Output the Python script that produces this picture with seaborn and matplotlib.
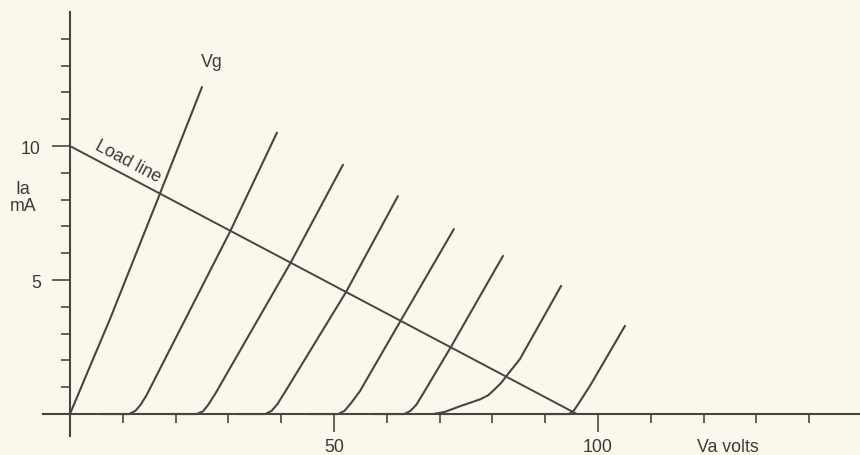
import numpy as np
import pandas as pd
import matplotlib
matplotlib.use("Agg")
import matplotlib.pyplot as plt
import seaborn as sns

# curvas de anodo (Va em volts, Ia em mA)
curve1_va = [0, 1.5, 3.2, 7.6, 17.0, 25.0]
curve1_ia = [0, 0.7, 1.5, 3.55, 8.2, 12.2]
curve2_va = [6.0, 11.2, 12.4, 13.4, 14.5, 30.3, 39.2]
curve2_ia = [0, 0, 0.12, 0.35, 0.7, 6.8, 10.5]
curve3_va = [19.0, 24.0, 25.2, 26.2, 27.5, 41.8, 51.7]
curve3_ia = [0, 0, 0.1, 0.35, 0.75, 5.65, 9.3]
curve4_va = [31.6, 37.0, 38.2, 39.2, 40.5, 52.3, 62.1]
curve4_ia = [0, 0, 0.12, 0.35, 0.75, 4.56, 8.13]
curve5_va = [45.0, 50.8, 52.0, 53.2, 54.9, 62.5, 72.7]
curve5_ia = [0, 0, 0.12, 0.4, 0.85, 3.44, 6.9]
curve6_va = [57.4, 63.3, 64.5, 65.6, 67.0, 72.1, 82.0]
curve6_ia = [0, 0, 0.12, 0.35, 0.8, 2.49, 5.9]
curve7_va = [68.8, 71.0, 74.0, 77.7, 79.2, 80.3, 81.6, 82.7, 85.2, 93.0]
curve7_ia = [0, 0.08, 0.3, 0.55, 0.7, 0.9, 1.15, 1.43, 2.05, 4.78]
curve8_va = [90.3, 94.5, 95.5, 96.5, 98.5, 105.1]
curve8_ia = [0, 0, 0.15, 0.45, 1.06, 3.29]

# reta de carga
load_va = [0, 96]
load_ia = [10, 0]

# ticks
x_major = [50, 100]
x_major_labels = ["50", "100"]
x_minor = [10, 20, 30, 40, 60, 70, 80, 90, 110, 120, 130, 140]
y_major = [5, 10]
y_major_labels = ["5", "10"]
y_minor = [1, 2, 3, 4, 6, 7, 8, 9, 11, 12, 13, 14]

# montar dataframe longo com as curvas
curves = [(curve1_va, curve1_ia), (curve2_va, curve2_ia), (curve3_va, curve3_ia),
          (curve4_va, curve4_ia), (curve5_va, curve5_ia), (curve6_va, curve6_ia),
          (curve7_va, curve7_ia), (curve8_va, curve8_ia)]
frames = []
for i, (va, ia) in enumerate(curves):
    frames.append(pd.DataFrame({"Va": va, "Ia": ia, "curva": i}))
df = pd.concat(frames, ignore_index=True)
df_load = pd.DataFrame({"Va": load_va, "Ia": load_ia})

sns.set_theme(style="white")
plt.rcParams["font.family"] = ["Liberation Sans", "DejaVu Sans"]

bg = "#fcf7ec"
ink = "#45473f"
txt = "#3b3b37"
fs = 12.8

fig = plt.figure(figsize=(8.6, 4.56), dpi=100, facecolor=bg)
ax = fig.add_axes([43 / 860, 1 - 437 / 456, 817 / 860, 424 / 456])
ax.set_facecolor(bg)

sns.lineplot(data=df, x="Va", y="Ia", units="curva", estimator=None, sort=False,
             color=ink, linewidth=1.5, ax=ax, solid_joinstyle="round")
sns.lineplot(data=df_load, x="Va", y="Ia", estimator=None, sort=False,
             color=ink, linewidth=1.4, ax=ax)

ax.set_xlim(-5.1, 149.6)
ax.set_ylim(-0.82, 15.0)

# eixos cruzando na origem
for s in ["top", "right"]:
    ax.spines[s].set_visible(False)
ax.spines["left"].set_position(("data", 0))
ax.spines["bottom"].set_position(("data", 0))
for s in ["left", "bottom"]:
    ax.spines[s].set_color(ink)
    ax.spines[s].set_linewidth(1.5)

ax.set_xticks(x_major, x_major_labels)
ax.set_xticks(x_minor, minor=True)
ax.set_yticks(y_major, y_major_labels)
ax.set_yticks(y_minor, minor=True)
ax.tick_params(axis="both", which="both", bottom=True, left=True, top=False, right=False)
ax.tick_params(axis="both", which="major", direction="out", length=13, width=1.2,
               color=ink, labelcolor=txt, labelsize=fs)
ax.tick_params(axis="both", which="minor", direction="out", length=6.5, width=1.2,
               color=ink)
ax.tick_params(axis="x", which="major", pad=4)
ax.tick_params(axis="y", which="major", pad=8)
ax.set_xlabel("")
ax.set_ylabel("")

ax.text(124.6, -1.23, "Va volts", ha="center", va="center", fontsize=fs, color=txt)
ax.text(-8.9, 8.1, "Ia\nmA", ha="center", va="center", fontsize=fs, color=txt,
        linespacing=0.95)
ax.text(26.9, 13.17, "Vg", ha="center", va="center", fontsize=fs, color=txt)
ax.text(10.9, 9.45, "Load line", ha="center", va="center", fontsize=fs, color=txt,
        rotation=-28, rotation_mode="anchor")

fig.savefig("out.png", dpi=100, facecolor=bg)
